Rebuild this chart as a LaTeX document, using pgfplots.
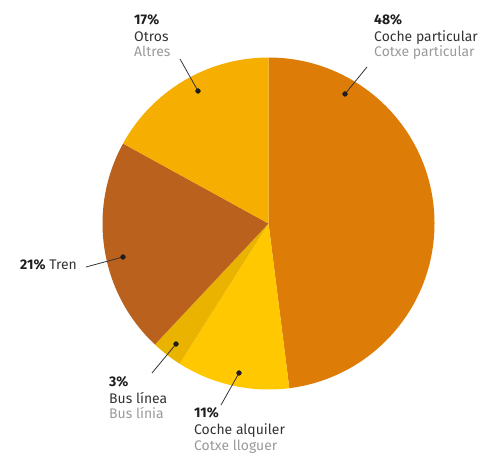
\documentclass[border=0pt]{standalone}
\usepackage{fontspec}
\setmainfont{Fira Sans}
\usepackage{pgfplots}
\usepackage{pgfplotstable}
\pgfplotsset{compat=1.18}
\definecolor{cA}{HTML}{DE7C08}
\definecolor{cB}{HTML}{FFC800}
\definecolor{cC}{HTML}{E9B300}
\definecolor{cD}{HTML}{BB611E}
\definecolor{cE}{HTML}{F6AF00}
\definecolor{tdark}{HTML}{1E1E1E}
\definecolor{tmid}{HTML}{333333}
\definecolor{tgray}{HTML}{9A9A9A}
\pgfplotstableread[col sep=comma]{
label,value,color
Coche particular,48,cA
Coche alquiler,11,cB
Bus linea,3,cC
Tren,21,cD
Otros,17,cE
}\piedata
\begin{document}
\begin{tikzpicture}
\begin{axis}[width=480bp,height=452bp,scale only axis,
  xmin=0,xmax=480,ymin=0,ymax=452,hide axis,clip=false]
\path (axis cs:0,0) rectangle (axis cs:480,452);
\pgfplotsextra{%
  \xdef\cum{90}%
  \foreach \i in {0,...,4}{%
    \pgfplotstablegetelem{\i}{value}\of\piedata
    \edef\v{\pgfplotsretval}%
    \pgfplotstablegetelem{\i}{color}\of\piedata
    \edef\c{\pgfplotsretval}%
    \pgfmathsetmacro\e{\cum-3.6*\v}%
    \fill[\c] (axis cs:268.5,228.5) -- (axis cs:{268.5+166*cos(\cum)},{228.5+166*sin(\cum)})
      arc[start angle=\cum,end angle=\e,radius=166bp] -- cycle;
    \xdef\cum{\e}%
  }%
}
% leader lines (image y converted: 452 - y)
\addplot[tmid, line width=0.8pt] coordinates {(180,393) (198,361)};
\addplot[tmid, line width=0.8pt] coordinates {(367,385) (345,358)};
\addplot[tmid, line width=0.8pt] coordinates {(86,185) (123,195)};
\addplot[tmid, line width=0.8pt] coordinates {(152,79) (176,108)};
\addplot[tmid, line width=0.8pt] coordinates {(221,47) (239,79)};
\addplot[only marks, mark=*, mark size=2.4pt, tdark] coordinates {(198,361) (345,358) (123,195) (176,108) (239,79)};
% labels
\tikzset{lab/.style={anchor=base west, inner sep=0pt, font=\fontsize{14}{15.5}\selectfont}}
\node[lab, tdark] at (axis cs:134,427) {\textbf{17\%}};
\node[lab, tmid] at (axis cs:134,410) {Otros};
\node[lab, tgray] at (axis cs:134,395) {Altres};
\node[lab, tdark] at (axis cs:374,427) {\textbf{48\%}};
\node[lab, tmid] at (axis cs:374,410) {Coche particular};
\node[lab, tgray] at (axis cs:374,395) {Cotxe particular};
\node[lab, tmid] at (axis cs:20,183) {\textcolor{tdark}{\textbf{21\%}} Tren};
\node[lab, tdark] at (axis cs:109,66) {\textbf{3\%}};
\node[lab, tmid] at (axis cs:109,49) {Bus línea};
\node[lab, tgray] at (axis cs:109,34) {Bus línia};
\node[lab, tdark] at (axis cs:194,35) {\textbf{11\%}};
\node[lab, tmid] at (axis cs:194,18) {Coche alquiler};
\node[lab, tgray] at (axis cs:194,2) {Cotxe lloguer};
\end{axis}
\end{tikzpicture}
\end{document}
